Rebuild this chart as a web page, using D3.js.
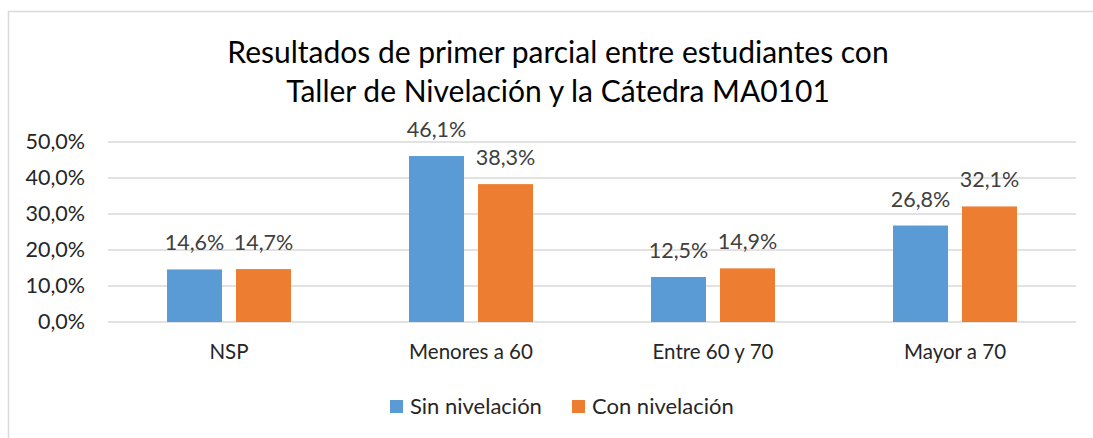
<!DOCTYPE html>
<html>
<head>
<meta charset="utf-8">
<script src="https://cdn.jsdelivr.net/npm/d3@7"></script>
<style>
  body { margin: 0; background: #fff; }
  svg text { font-family: Lato, "Open Sans", sans-serif; }
</style>
</head>
<body>
<script>
// data
var categories = ["NSP", "Menores a 60", "Entre 60 y 70", "Mayor a 70"];
var seriesNames = ["Sin nivelación", "Con nivelación"];
var sinValues = [14.6, 46.1, 12.5, 26.8];
var conValues = [14.7, 38.3, 14.9, 32.1];
var yTicks = [0, 10, 20, 30, 40, 50];
var titleLines = ["Resultados de primer parcial entre estudiantes con",
                  "Taller de Nivelación y la Cátedra MA0101"];

var colors = ["#5B9BD5", "#ED7D31"];

var svgWidth = 1093;
var svgHeight = 438;

var margin = { top: 142, right: 17, bottom: 116, left: 108 };
var chartWidth = svgWidth - margin.left - margin.right;
var chartHeight = svgHeight - margin.top - margin.bottom;

var locale = d3.formatLocale({ decimal: ",", thousands: ".", grouping: [3], currency: ["", "€"] });
var pct = locale.format(".1f");

var svg = d3.select("body")
  .append("svg")
  .attr("width", svgWidth)
  .attr("height", svgHeight);

// chart border (runs off the right and bottom edge)
svg.append("rect")
  .attr("x", 8.5)
  .attr("y", 11.5)
  .attr("width", svgWidth + 20)
  .attr("height", svgHeight + 20)
  .attr("fill", "none")
  .attr("stroke", "#D9D9D9")
  .attr("stroke-width", 1.5);

// title
svg.append("g").selectAll("text")
  .data(titleLines)
  .join("text")
  .attr("x", 558)
  .attr("y", function(d, i) { return 63 + i * 39; })
  .attr("text-anchor", "middle")
  .attr("font-size", 30)
  .attr("fill", "#000")
  .text(function(d) { return d; });

var chartGroup = svg.append("g")
  .attr("transform", `translate(${margin.left}, ${margin.top})`);

var yScale = d3.scaleLinear()
  .domain([0, 50])
  .range([chartHeight, 0]);

var xScale = d3.scaleBand()
  .domain(categories)
  .range([0, chartWidth]);

var xInner = d3.scaleBand()
  .domain(seriesNames)
  .range([0, 124])
  .paddingInner(0.203);

// gridlines
chartGroup.append("g")
  .selectAll("line")
  .data(yTicks)
  .join("line")
  .attr("x1", 0)
  .attr("x2", chartWidth)
  .attr("y1", function(d) { return yScale(d); })
  .attr("y2", function(d) { return yScale(d); })
  .attr("stroke", "#D9D9D9")
  .attr("stroke-width", 1.5);

// y axis
var yAxis = d3.axisLeft(yScale)
  .tickValues(yTicks)
  .tickSize(0)
  .tickPadding(23)
  .tickFormat(function(d) { return pct(d) + "%"; });

chartGroup.append("g")
  .call(yAxis)
  .call(function(g) { g.select(".domain").remove(); })
  .selectAll("text")
  .attr("font-size", 21.5)
  .attr("fill", "#262626");

// x axis
var xAxis = d3.axisBottom(xScale).tickSize(0).tickPadding(22);
chartGroup.append("g")
  .attr("transform", `translate(0, ${chartHeight})`)
  .call(xAxis)
  .call(function(g) { g.select(".domain").remove(); })
  .selectAll("text")
  .attr("font-size", 20.5)
  .attr("fill", "#262626");

// bars
var rows = categories.map(function(c, i) {
  return { cat: c, vals: [sinValues[i], conValues[i]] };
});

var groups = chartGroup.selectAll(".cat")
  .data(rows)
  .join("g")
  .attr("class", "cat")
  .attr("transform", function(d) {
    return `translate(${xScale(d.cat) + xScale.bandwidth() / 2 - 62}, 0)`;
  });

groups.selectAll("rect")
  .data(function(d) { return d.vals.map(function(v, j) { return { s: seriesNames[j], v: v, j: j }; }); })
  .join("rect")
  .attr("x", function(d) { return xInner(d.s); })
  .attr("y", function(d) { return yScale(d.v); })
  .attr("width", xInner.bandwidth())
  .attr("height", function(d) { return chartHeight - yScale(d.v); })
  .attr("fill", function(d) { return colors[d.j]; });

groups.selectAll("text")
  .data(function(d) { return d.vals.map(function(v, j) { return { s: seriesNames[j], v: v, j: j }; }); })
  .join("text")
  .attr("x", function(d) { return xInner(d.s) + xInner.bandwidth() / 2; })
  .attr("y", function(d) { return yScale(d.v) - 19; })
  .attr("text-anchor", "middle")
  .attr("font-size", 21.5)
  .attr("fill", "#404040")
  .text(function(d) { return pct(d.v) + "%"; });

// legend
var legendX = [390, 572];
var legend = svg.append("g")
  .selectAll("g")
  .data(seriesNames)
  .join("g")
  .attr("transform", function(d, i) { return `translate(${legendX[i]}, 400)`; });

legend.append("rect")
  .attr("width", 13)
  .attr("height", 13)
  .attr("fill", function(d, i) { return colors[i]; });

legend.append("text")
  .attr("x", 20)
  .attr("y", 14)
  .attr("font-size", 22)
  .attr("fill", "#262626")
  .text(function(d) { return d; });
</script>
</body>
</html>
